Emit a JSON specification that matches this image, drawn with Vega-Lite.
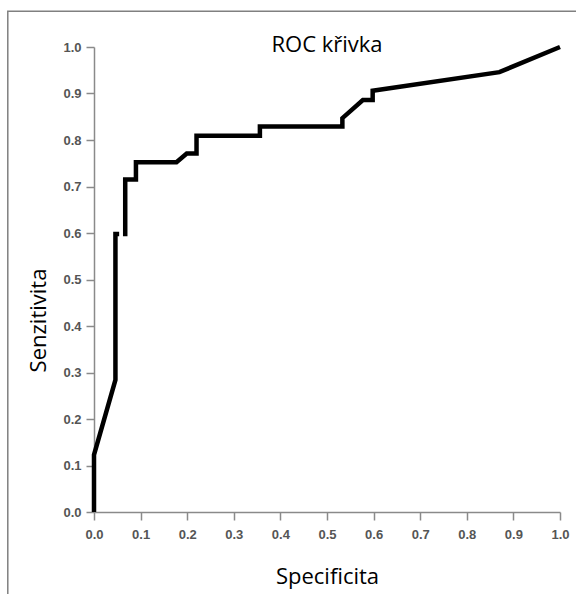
{
  "$schema": "https://vega.github.io/schema/vega-lite/v6.json",
  "width": 466,
  "height": 465,
  "autosize": {"type": "none"},
  "padding": {"left": 94, "top": 47, "right": 16, "bottom": 82},
  "background": "white",
  "config": {"view": {"stroke": null}},
  "title": {
    "text": "ROC křivka",
    "font": "Open Sans",
    "fontSize": 22,
    "fontWeight": "normal",
    "color": "black",
    "anchor": "middle",
    "frame": "group",
    "baseline": "alphabetic",
    "offset": 0,
    "dy": 64
  },
  "datasets": {
    "roc": [
      {"seg": 1, "i": 1, "spec": 0.0, "sens": 0.0},
      {"seg": 1, "i": 2, "spec": 0.0, "sens": 0.123},
      {"seg": 1, "i": 3, "spec": 0.046, "sens": 0.284},
      {"seg": 1, "i": 4, "spec": 0.046, "sens": 0.598},
      {"seg": 1, "i": 5, "spec": 0.054, "sens": 0.598},
      {"seg": 2, "i": 6, "spec": 0.067, "sens": 0.593},
      {"seg": 2, "i": 7, "spec": 0.067, "sens": 0.715},
      {"seg": 2, "i": 8, "spec": 0.09, "sens": 0.715},
      {"seg": 2, "i": 9, "spec": 0.09, "sens": 0.752},
      {"seg": 2, "i": 10, "spec": 0.177, "sens": 0.752},
      {"seg": 2, "i": 11, "spec": 0.199, "sens": 0.771},
      {"seg": 2, "i": 12, "spec": 0.22, "sens": 0.771},
      {"seg": 2, "i": 13, "spec": 0.22, "sens": 0.809},
      {"seg": 2, "i": 14, "spec": 0.356, "sens": 0.809},
      {"seg": 2, "i": 15, "spec": 0.356, "sens": 0.829},
      {"seg": 2, "i": 16, "spec": 0.533, "sens": 0.829},
      {"seg": 2, "i": 17, "spec": 0.533, "sens": 0.847},
      {"seg": 2, "i": 18, "spec": 0.577, "sens": 0.886},
      {"seg": 2, "i": 19, "spec": 0.598, "sens": 0.886},
      {"seg": 2, "i": 20, "spec": 0.598, "sens": 0.906},
      {"seg": 2, "i": 21, "spec": 0.87, "sens": 0.946},
      {"seg": 2, "i": 22, "spec": 1.0, "sens": 1.0}
    ],
    "frame": [
      {"x1": -0.185, "x2": 1.2, "y1": 1.077, "y2": -0.3}
    ]
  },
  "layer": [
    {
      "data": {"name": "frame"},
      "mark": {"type": "rect", "fill": null, "stroke": "#808080", "strokeWidth": 1.5, "clip": false},
      "encoding": {
        "x": {"field": "x1", "type": "quantitative"},
        "x2": {"field": "x2"},
        "y": {"field": "y1", "type": "quantitative"},
        "y2": {"field": "y2"}
      }
    },
    {
      "data": {"name": "roc"},
      "mark": {"type": "line", "color": "black", "strokeWidth": 4.5, "strokeJoin": "miter", "strokeCap": "butt", "clip": false},
      "encoding": {
        "x": {
          "field": "spec",
          "type": "quantitative",
          "scale": {"domain": [0, 1], "nice": false, "zero": false},
          "axis": {
            "title": "Specificita",
            "values": [0, 0.1, 0.2, 0.3, 0.4, 0.5, 0.6, 0.7, 0.8, 0.9, 1.0],
            "format": ".1f",
            "grid": false,
            "domainColor": "#8a8a8a",
            "domainWidth": 1.5,
            "tickColor": "#8a8a8a",
            "tickWidth": 1.5,
            "tickSize": 8,
            "labelPadding": 8,
            "labelFont": "Liberation Sans",
            "labelFontSize": 13,
            "labelFontWeight": "bold",
            "labelColor": "#555555",
            "labelFlush": false,
            "titleFont": "Open Sans",
            "titleFontSize": 22,
            "titleFontWeight": "normal",
            "titleColor": "black",
            "titleBaseline": "alphabetic",
            "titleY": 71
          }
        },
        "y": {
          "field": "sens",
          "type": "quantitative",
          "scale": {"domain": [0, 1], "nice": false, "zero": false},
          "axis": {
            "title": "Senzitivita",
            "values": [0, 0.1, 0.2, 0.3, 0.4, 0.5, 0.6, 0.7, 0.8, 0.9, 1.0],
            "format": ".1f",
            "grid": false,
            "domainColor": "#8a8a8a",
            "domainWidth": 1.5,
            "tickColor": "#8a8a8a",
            "tickWidth": 1.5,
            "tickSize": 8,
            "labelPadding": 5,
            "labelFont": "Liberation Sans",
            "labelFontSize": 13,
            "labelFontWeight": "bold",
            "labelColor": "#555555",
            "labelFlush": false,
            "titleFont": "Open Sans",
            "titleFontSize": 22,
            "titleFontWeight": "normal",
            "titleColor": "black",
            "titleAngle": -90,
            "titleAlign": "center",
            "titleBaseline": "alphabetic",
            "titleX": -49,
            "titleY": 273
          }
        },
        "detail": {"field": "seg", "type": "nominal"},
        "order": {"field": "i", "type": "quantitative"}
      }
    }
  ]
}
